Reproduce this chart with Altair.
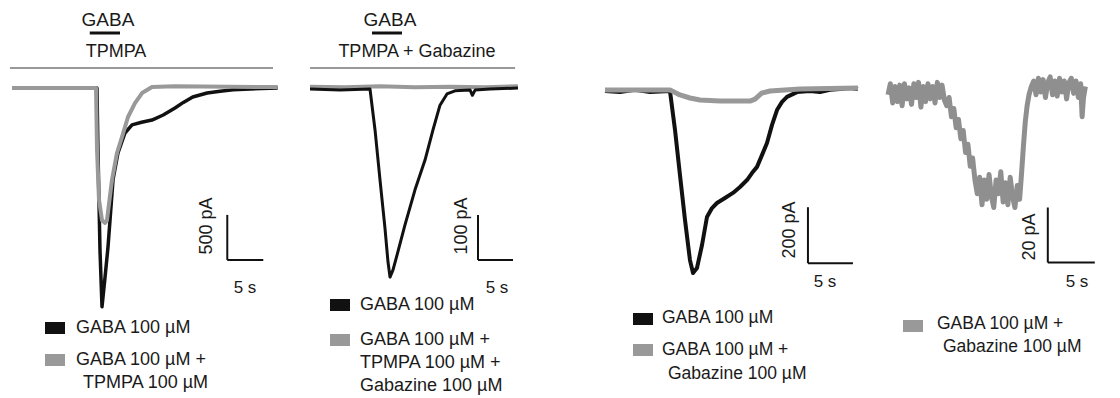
import altair as alt
import pandas as pd

H = 398
FONT = "Liberation Sans"
BLACK = "#111111"
GRAY = "#999999"
TXT = "#1a1a1a"

# ---------------- data (time in s, current in pA) ----------------
p1_black_t = [0, 11.8, 11.94, 12.22, 12.5, 12.9, 13.33, 14.03, 14.72, 15.69, 16.67, 18.0, 19.44, 21.0, 22.64, 23.8, 25.1, 27.1, 28.9, 30.7, 33.1, 36.9]
p1_black_I = [0, 0, -690, -1800, -2430, -2120, -1770, -1020, -720, -500, -410, -380, -356, -300, -222, -160, -100, -55, -35, -20, -10, 0]
p1_gray_t = [0, 11.67, 11.81, 12.08, 12.5, 12.92, 13.19, 13.89, 14.58, 15.28, 16.11, 17.08, 18.06, 19.44, 22.6, 36.9]
p1_gray_I = [0, 0, -690, -1240, -1470, -1500, -1470, -1020, -722, -544, -322, -167, -56, 11, 20, 10]

p2_black_t = [0, 4.3, 8.57, 9.29, 10.0, 10.71, 11.14, 11.43, 11.86, 12.43, 13.57, 15.0, 16.43, 17.57, 18.57, 19.57, 20.71, 22.86, 23.2, 23.6, 25.71, 29.71]
p2_black_I = [0, -2, 0, -91, -202, -309, -384, -418, -402, -369, -302, -224, -158, -91, -36, -11, -4, -2, -14, -2, 0, 2]
p2_gray_t = [0, 5, 10, 15, 20, 25, 29.7]
p2_gray_I = [5, 4, 6, 4, 5, 4, 6]

p3_black_t = [0, 1.67, 3.33, 5.0, 7.22, 7.78, 8.33, 8.89, 9.44, 9.78, 10.22, 10.78, 11.33, 11.89, 12.44, 13.33, 14.22, 15.0, 15.78, 16.33, 16.89, 17.44, 18.0, 18.56, 19.11, 19.67, 20.22, 21.33, 22.78, 23.89, 25.0, 26.11, 27.22, 28.11]
p3_black_I = [0, -4, 4, -4, 0, -139, -300, -461, -604, -650, -632, -550, -450, -418, -400, -382, -364, -343, -318, -293, -271, -229, -186, -121, -68, -39, -21, -4, 0, -4, 4, 7, 11, 7]
p3_gray_t = [0, 7.22, 8.33, 9.44, 10.56, 12.78, 16.11, 16.67, 17.44, 18.33, 21.67, 28.11]
p3_gray_I = [4, 4, -14, -25, -32, -36, -36, -29, -7, 0, 7, 11]

p4_gray_t = [0.0, 0.25, 0.5, 0.75, 1.0, 1.25, 1.5, 1.75, 2.0, 2.25, 2.5, 2.75, 3.0, 3.25, 3.5, 3.75, 4.0, 4.25, 4.5, 4.75, 5.0, 5.25, 5.5, 5.75, 6.0,
             6.25, 6.5, 6.75, 7.0, 7.25, 7.5, 7.75, 8.0, 8.25, 8.5, 8.75, 9.0, 9.25,
             9.5, 9.75, 10.0, 10.25, 10.5, 10.75, 11.0, 11.25, 11.5, 11.75, 12.0, 12.25, 12.5, 12.75, 13.0, 13.25, 13.5, 13.75,
             14.0, 14.2, 14.4, 14.6, 14.8, 15.0, 15.25,
             15.5, 15.75, 16.0, 16.25, 16.5, 16.75, 17.0, 17.25, 17.5, 17.75, 18.0, 18.25, 18.5, 18.75, 19.0, 19.25, 19.5, 19.75, 20.0, 20.25, 20.5, 20.65, 20.8, 21.0]
p4_gray_I = [-1, 3, -4, 2, -3.5, 2.5, -5, 3, -2.5, 1.5, -4.5, 3, -2, 3.5, -5.5, 2, -3.5, 3, -2.5, 2, -4, 3.5, -2, 2.5, -3,
             -5, -2, -9, -6, -13, -10, -17, -14, -22, -19, -27, -24, -32,
             -37, -31, -41, -32, -39, -30, -38, -42, -32, -37, -29, -40, -33, -41, -31, -38, -42, -34,
             -39, -30, -20, -11, -5, -1, 2,
             4, -1, 5, 0, 4.5, -2, 3.5, 5.5, -1, 4, -1.5, 5, 0, 4, -2.5, 3.5, 5, -0.5, 4, -2, 3, -9, -2, 2]

# scale bars: (time anchor, current anchor, seconds, pA)
bars = {1: (29.9, -1910, 5, 500), 2: (24.0, -380, 5, 100), 3: (22.55, -615, 5, 200), 4: (17.0, -62, 5, 20)}
bar_labels = {1: "500 pA", 2: "100 pA", 3: "200 pA", 4: "20 pA"}

# application bars (s)
gaba_bar = {1: (10.8, 15.0), 2: (8.86, 13.14)}
drug_bar = {1: (-0.28, 36.25), 2: (0.0, 29.3)}

# ---------------- geometry ----------------
# left, width, pixel of t=0, px per s, baseline pixel, px per pA
geom = {
    1: (0, 295, 12, 7.2, 88, 0.09),
    2: (295, 290, 310, 7.0, 89, 0.45),
    3: (585, 285, 605, 9.0, 91, 0.28),
    4: (870, 250, 888, 9.4, 92, 2.75),
}


def text(label, x, y, size=16, align="left", angle=0):
    return alt.Chart(pd.DataFrame({"a": [0]})).mark_text(
        text=label, font=FONT, fontSize=size, align=align, baseline="middle",
        color=TXT, angle=angle
    ).encode(x=alt.value(x), y=alt.value(y))


def swatch(color, x1, x2, y):
    return alt.Chart(pd.DataFrame({"a": [0]})).mark_rect(color=color).encode(
        x=alt.value(x1), x2=alt.value(x2), y=alt.value(y - 6), y2=alt.value(y + 6))


def panel(k, traces, texts, swatches, bar_label_pos, secs_pos):
    L, W, x0, sx, y0, sy = geom[k]
    xs = alt.Scale(domain=[(L - x0) / sx, (L + W - x0) / sx], nice=False, zero=False)
    ys = alt.Scale(domain=[-(H - y0) / sy, y0 / sy], nice=False, zero=False)
    layers = []
    for tt, ii, col, sw in traces:
        df = pd.DataFrame({"t": tt, "I": ii, "o": range(len(tt))})
        layers.append(alt.Chart(df).mark_line(color=col, strokeWidth=sw, strokeJoin="round").encode(
            x=alt.X("t:Q", scale=xs, axis=None), y=alt.Y("I:Q", scale=ys, axis=None), order="o:Q"))
    t0, i0, ds, di = bars[k]
    sb = pd.DataFrame({"t": [t0, t0], "t2": [t0 + ds, t0], "I": [i0, i0], "I2": [i0, i0 + di]})
    layers.append(alt.Chart(sb).mark_rule(color=BLACK, strokeWidth=2).encode(
        x=alt.X("t:Q", scale=xs, axis=None), x2="t2", y=alt.Y("I:Q", scale=ys, axis=None), y2="I2"))
    if k in gaba_bar:
        g = pd.DataFrame({"t": [gaba_bar[k][0]], "t2": [gaba_bar[k][1]]})
        layers.append(alt.Chart(g).mark_rule(color=BLACK, strokeWidth=3).encode(
            x=alt.X("t:Q", scale=xs, axis=None), x2="t2", y=alt.value(33)))
        d = pd.DataFrame({"t": [drug_bar[k][0]], "t2": [drug_bar[k][1]]})
        layers.append(alt.Chart(d).mark_rule(color=GRAY, strokeWidth=2).encode(
            x=alt.X("t:Q", scale=xs, axis=None), x2="t2", y=alt.value(68)))
    for col, x1, x2, y in swatches:
        layers.append(swatch(col, x1, x2, y))
    for lab, x, y, size, al in texts:
        layers.append(text(lab, x, y, size, al))
    layers.append(text(bar_labels[k], bar_label_pos[0], bar_label_pos[1], 18, "center", 270))
    layers.append(text("5 s", secs_pos[0], secs_pos[1], 17, "center"))
    return alt.layer(*layers).properties(width=W, height=H)


p1 = panel(1,
           [(p1_black_t, p1_black_I, BLACK, 3.5), (p1_gray_t, p1_gray_I, GRAY, 4)],
           [("GABA", 108, 20, 19, "center"), ("TPMPA", 116, 52, 18, "center"),
            ("GABA 100 µM", 76, 328, 18, "left"), ("GABA 100 µM +", 76, 360, 18, "left"),
            ("TPMPA 100 µM", 83, 383, 18, "left")],
           [(BLACK, 45, 65, 328), (GRAY, 45, 65, 360)],
           (207, 226), (245, 288))

p2 = panel(2,
           [(p2_gray_t, p2_gray_I, GRAY, 4), (p2_black_t, p2_black_I, BLACK, 3)],
           [("GABA", 95, 20, 19, "center"), ("TPMPA + Gabazine", 122, 52, 18, "center"),
            ("GABA 100 µM", 65, 305, 18, "left"), ("GABA 100 µM +", 65, 340, 18, "left"),
            ("TPMPA 100 µM +", 65, 363, 18, "left"), ("Gabazine 100 µM", 65, 386, 18, "left")],
           [(BLACK, 35, 55, 305), (GRAY, 35, 55, 340)],
           (167, 226), (202, 288))

p3 = panel(3,
           [(p3_black_t, p3_black_I, BLACK, 4), (p3_gray_t, p3_gray_I, GRAY, 5)],
           [("GABA 100 µM", 77, 318, 17.5, "left"), ("GABA 100 µM +", 77, 350, 17.5, "left"),
            ("Gabazine 100 µM", 83, 374, 17.5, "left")],
           [(BLACK, 48, 68, 319), (GRAY, 48, 68, 350)],
           (205, 230), (240, 282))

p4 = panel(4,
           [(p4_gray_t, p4_gray_I, "#8f8f8f", 5)],
           [("GABA 100 µM +", 67, 324, 17.5, "left"), ("Gabazine 100 µM", 73, 347, 17.5, "left")],
           [(GRAY, 33, 53, 326)],
           (160, 237), (207, 282))

chart = alt.hconcat(p1, p2, p3, p4, spacing=0, bounds="flush").properties(
    padding=0, background="white"
).configure_view(stroke=None)

chart.save("out.html", embed_options={"renderer": "svg", "actions": False})
